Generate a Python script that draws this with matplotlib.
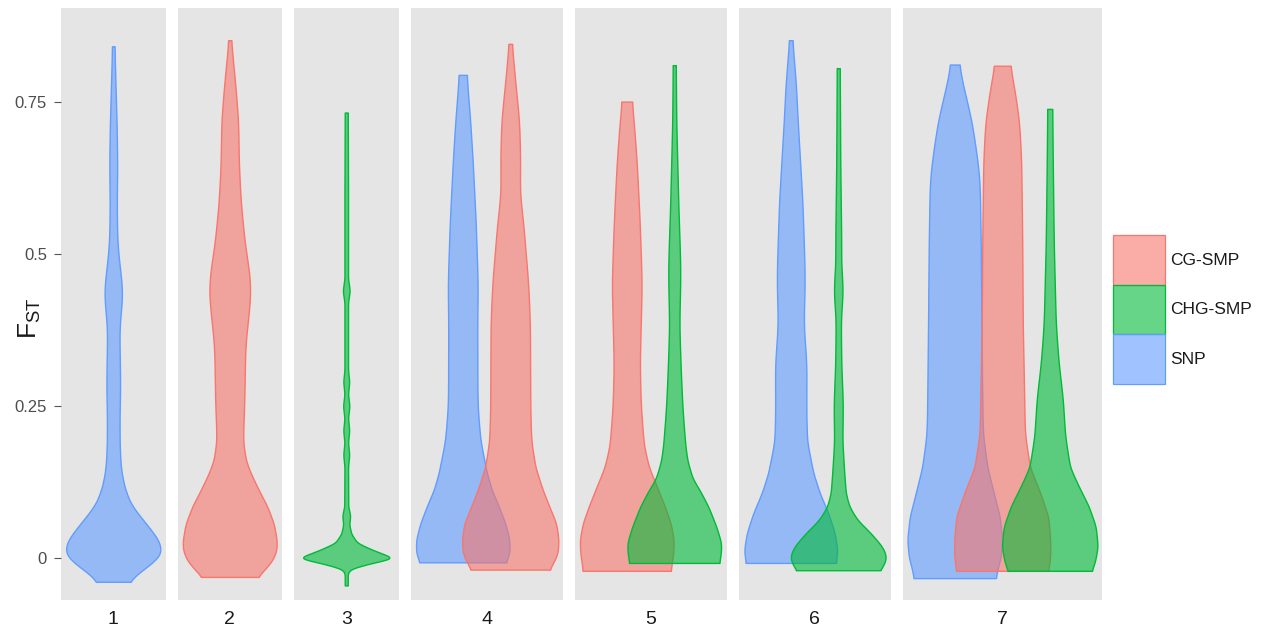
import numpy as np
import matplotlib
matplotlib.use("Agg")
import matplotlib.pyplot as plt
from matplotlib.patches import Patch
from matplotlib.colors import to_rgba

plt.rcParams['font.family'] = ['Liberation Sans', 'DejaVu Sans']

groups = ["CG-SMP", "CHG-SMP", "SNP"]
colors = {"CG-SMP": "#F8766D", "CHG-SMP": "#00BA38", "SNP": "#619CFF"}
panel_labels = ["1", "2", "3", "4", "5", "6", "7"]
y_ticks = [0, 0.25, 0.5, 0.75]
y_ticklabels = ["0", "0.25", "0.5", "0.75"]

# violin outlines: FST level and half width (density, px)
p1_snp_y = [-0.039, -0.025, -0.008, 0.005, 0.016, 0.030, 0.046, 0.0625, 0.079, 0.095, 0.117, 0.14, 0.161, 0.194, 0.24, 0.28, 0.33, 0.38, 0.41, 0.438, 0.46, 0.485, 0.52, 0.58, 0.65, 0.72, 0.78, 0.842]
p1_snp_w = [16, 25, 39, 46.7, 47.8, 45, 38, 30, 22, 16, 11.3, 8.3, 7, 6.3, 6.3, 7, 6.5, 6, 8, 9.5, 8, 6, 4, 3.5, 4, 3.3, 2.2, 1.2]

p2_cg_y = [-0.031, -0.019, -0.003, 0.014, 0.030, 0.057, 0.085, 0.112, 0.14, 0.161, 0.194, 0.252, 0.35, 0.398, 0.438, 0.465, 0.518, 0.585, 0.651, 0.718, 0.784, 0.852]
p2_cg_w = [27.5, 35, 43, 47, 47, 44, 37.5, 29, 20.8, 15.8, 13, 14.5, 15.5, 18.7, 21, 20, 15, 11, 9, 8.5, 5.3, 1.2]

p3_chg_y = [-0.045, -0.025, -0.018, -0.01, 0.0, 0.013, 0.025, 0.04, 0.055, 0.07, 0.085, 0.15, 0.17, 0.19, 0.21, 0.23, 0.25, 0.27, 0.29, 0.31, 0.42, 0.44, 0.46, 0.6, 0.733]
p3_chg_w = [1.5, 1.5, 4, 21, 48, 27, 11, 5, 3, 4, 2, 1.8, 3, 1.8, 3, 1.8, 3.2, 1.8, 3, 1.8, 1.8, 3.5, 1.8, 1.8, 1.5]

p4_snp_y = [-0.007, 0.008, 0.030, 0.057, 0.085, 0.112, 0.14, 0.194, 0.252, 0.385, 0.451, 0.551, 0.651, 0.718, 0.795]
p4_snp_w = [43, 46.7, 46.7, 42.5, 36, 29, 24, 17.5, 14.7, 14.5, 15, 13, 10, 7.5, 3.8]
p4_cg_y = [-0.019, -0.008, 0.008, 0.030, 0.057, 0.085, 0.112, 0.15, 0.194, 0.252, 0.385, 0.451, 0.551, 0.60, 0.651, 0.718, 0.784, 0.846]
p4_cg_w = [39, 43, 47.5, 48.3, 46, 39, 32.5, 25, 20.8, 20, 19.7, 18, 13, 9.5, 10, 9, 5, 1.5]

p5_cg_y = [-0.021, -0.008, 0.008, 0.030, 0.057, 0.085, 0.118, 0.15, 0.185, 0.252, 0.318, 0.451, 0.551, 0.651, 0.718, 0.751]
p5_cg_w = [44, 45, 46.5, 47, 44, 38, 30, 22, 17, 14, 13, 15, 13, 10, 7, 5]
p5_chg_y = [-0.008, 0.009, 0.025, 0.052, 0.085, 0.11, 0.132, 0.16, 0.185, 0.252, 0.318, 0.385, 0.451, 0.485, 0.585, 0.718, 0.811]
p5_chg_w = [45, 46.7, 47, 42, 34, 26, 18, 13, 11, 8, 6.3, 5, 6, 6, 4, 2, 1.5]

p6_snp_y = [-0.008, 0.013, 0.041, 0.074, 0.107, 0.14, 0.194, 0.252, 0.318, 0.385, 0.451, 0.485, 0.585, 0.718, 0.784, 0.852]
p6_snp_w = [45, 46.7, 44, 37.5, 29, 22.5, 16, 15.5, 15.8, 12.8, 14, 13.7, 11.7, 7, 5, 1.5]
p6_chg_y = [-0.020, -0.011, 0.003, 0.019, 0.041, 0.063, 0.085, 0.107, 0.14, 0.194, 0.252, 0.318, 0.398, 0.44, 0.48, 0.518, 0.651, 0.806]
p6_chg_w = [41, 46, 48.3, 44, 32.5, 19, 11, 7.5, 6, 4, 4.7, 3, 2.5, 5, 2.8, 3, 2, 1.5]

p7_snp_y = [-0.033, -0.020, 0.002, 0.030, 0.068, 0.107, 0.15, 0.205, 0.26, 0.385, 0.518, 0.618, 0.651, 0.718, 0.784, 0.812]
p7_snp_w = [41, 42.5, 46, 47.5, 45, 39, 32.5, 28, 27.5, 26.7, 26, 25, 23, 17, 7.5, 4]
p7_cg_y = [-0.021, 0.002, 0.030, 0.068, 0.107, 0.15, 0.205, 0.26, 0.385, 0.518, 0.651, 0.718, 0.784, 0.81]
p7_cg_w = [46, 48, 48, 46, 38, 27.5, 22.5, 22, 20.5, 20, 19, 17, 11, 7.5]
p7_chg_y = [-0.021, -0.008, 0.019, 0.052, 0.085, 0.118, 0.15, 0.205, 0.26, 0.318, 0.385, 0.518, 0.651, 0.739]
p7_chg_w = [41.7, 45, 48, 46, 39, 29, 20, 15, 13.3, 9, 6, 4, 3, 2.5]

panels = [
    [("SNP", p1_snp_y, p1_snp_w)],
    [("CG-SMP", p2_cg_y, p2_cg_w)],
    [("CHG-SMP", p3_chg_y, p3_chg_w)],
    [("SNP", p4_snp_y, p4_snp_w), ("CG-SMP", p4_cg_y, p4_cg_w)],
    [("CG-SMP", p5_cg_y, p5_cg_w), ("CHG-SMP", p5_chg_y, p5_chg_w)],
    [("SNP", p6_snp_y, p6_snp_w), ("CHG-SMP", p6_chg_y, p6_chg_w)],
    [("SNP", p7_snp_y, p7_snp_w), ("CG-SMP", p7_cg_y, p7_cg_w), ("CHG-SMP", p7_chg_y, p7_chg_w)],
]
# (sigma near the base, sigma in the upper tail)
smooth = [(0.006, 0.018), (0.006, 0.018), (0.003, 0.003), (0.006, 0.018),
          (0.006, 0.018), (0.006, 0.018), (0.006, 0.018)]

W, H = 1270, 636
unit = 47.5     # px per violin slot
gap = 12
top_px, bot_px = 8, 600


def gsmooth(yy, ww, sigma):
    step = yy[1] - yy[0]
    half = int(3 * sigma / step) + 1
    k = np.exp(-0.5 * (np.arange(-half, half + 1) * step / sigma) ** 2)
    k /= k.sum()
    return np.convolve(np.pad(ww, half, mode='edge'), k, mode='valid')


def outline(y, w, sig):
    yy = np.linspace(y[0], y[-1], 1000)
    ww = np.interp(yy, y, w)
    lo = gsmooth(yy, ww, sig[0])
    hi = gsmooth(yy, ww, sig[1])
    t = np.clip((yy - 0.12) / 0.12, 0, 1)
    return yy, (lo * (1 - t) + hi * t) / unit


fig = plt.figure(figsize=(12.7, 6.36), dpi=100)
x0 = 61
for i, violins in enumerate(panels):
    n = len(violins)
    wpx = (n - 1 + 2.2) * unit
    ax = fig.add_axes([x0 / W, 1 - bot_px / H, wpx / W, (bot_px - top_px) / H])
    x0 += wpx + gap
    ax.set_facecolor("#E5E5E5")
    for s in ax.spines.values():
        s.set_visible(False)
    for j, (g, y, w) in enumerate(violins):
        yy, ww = outline(y, w, smooth[i])
        ax.fill_betweenx(yy, j - ww, j + ww, facecolor=to_rgba(colors[g], 0.6),
                         edgecolor=colors[g], linewidth=1.0)
    ax.set_xlim(-1.1, n - 1 + 1.1)
    ax.set_ylim(-0.069, 0.905)
    ax.set_xticks([(n - 1) / 2])
    ax.set_xticklabels([panel_labels[i]], fontsize=14, color="#1A1A1A")
    ax.tick_params(axis='x', length=0, pad=8)
    if i == 0:
        ax.set_yticks(y_ticks)
        ax.set_yticklabels(y_ticklabels, fontsize=12, color="#4D4D4D")
        ax.tick_params(axis='y', length=5, width=0.8, color="#555555", pad=5)
    else:
        ax.set_yticks([])

fig.text(30 / W, 1 - 318 / H, r"$\mathregular{F_{ST}}$", rotation=90,
         fontsize=19, ha='center', va='center', color="#1A1A1A")

handles = [Patch(facecolor=to_rgba(colors[g], 0.6), edgecolor=colors[g], linewidth=0.9)
           for g in groups]
fig.legend(handles, groups, loc='center left', bbox_to_anchor=(1113 / W, 1 - 309.5 / H),
           frameon=False, handlelength=3.0, handleheight=4.0, labelspacing=0,
           handletextpad=0.3, fontsize=12.5, borderpad=0, borderaxespad=0,
           labelcolor="#1A1A1A")

fig.savefig("out.png", dpi=100)
